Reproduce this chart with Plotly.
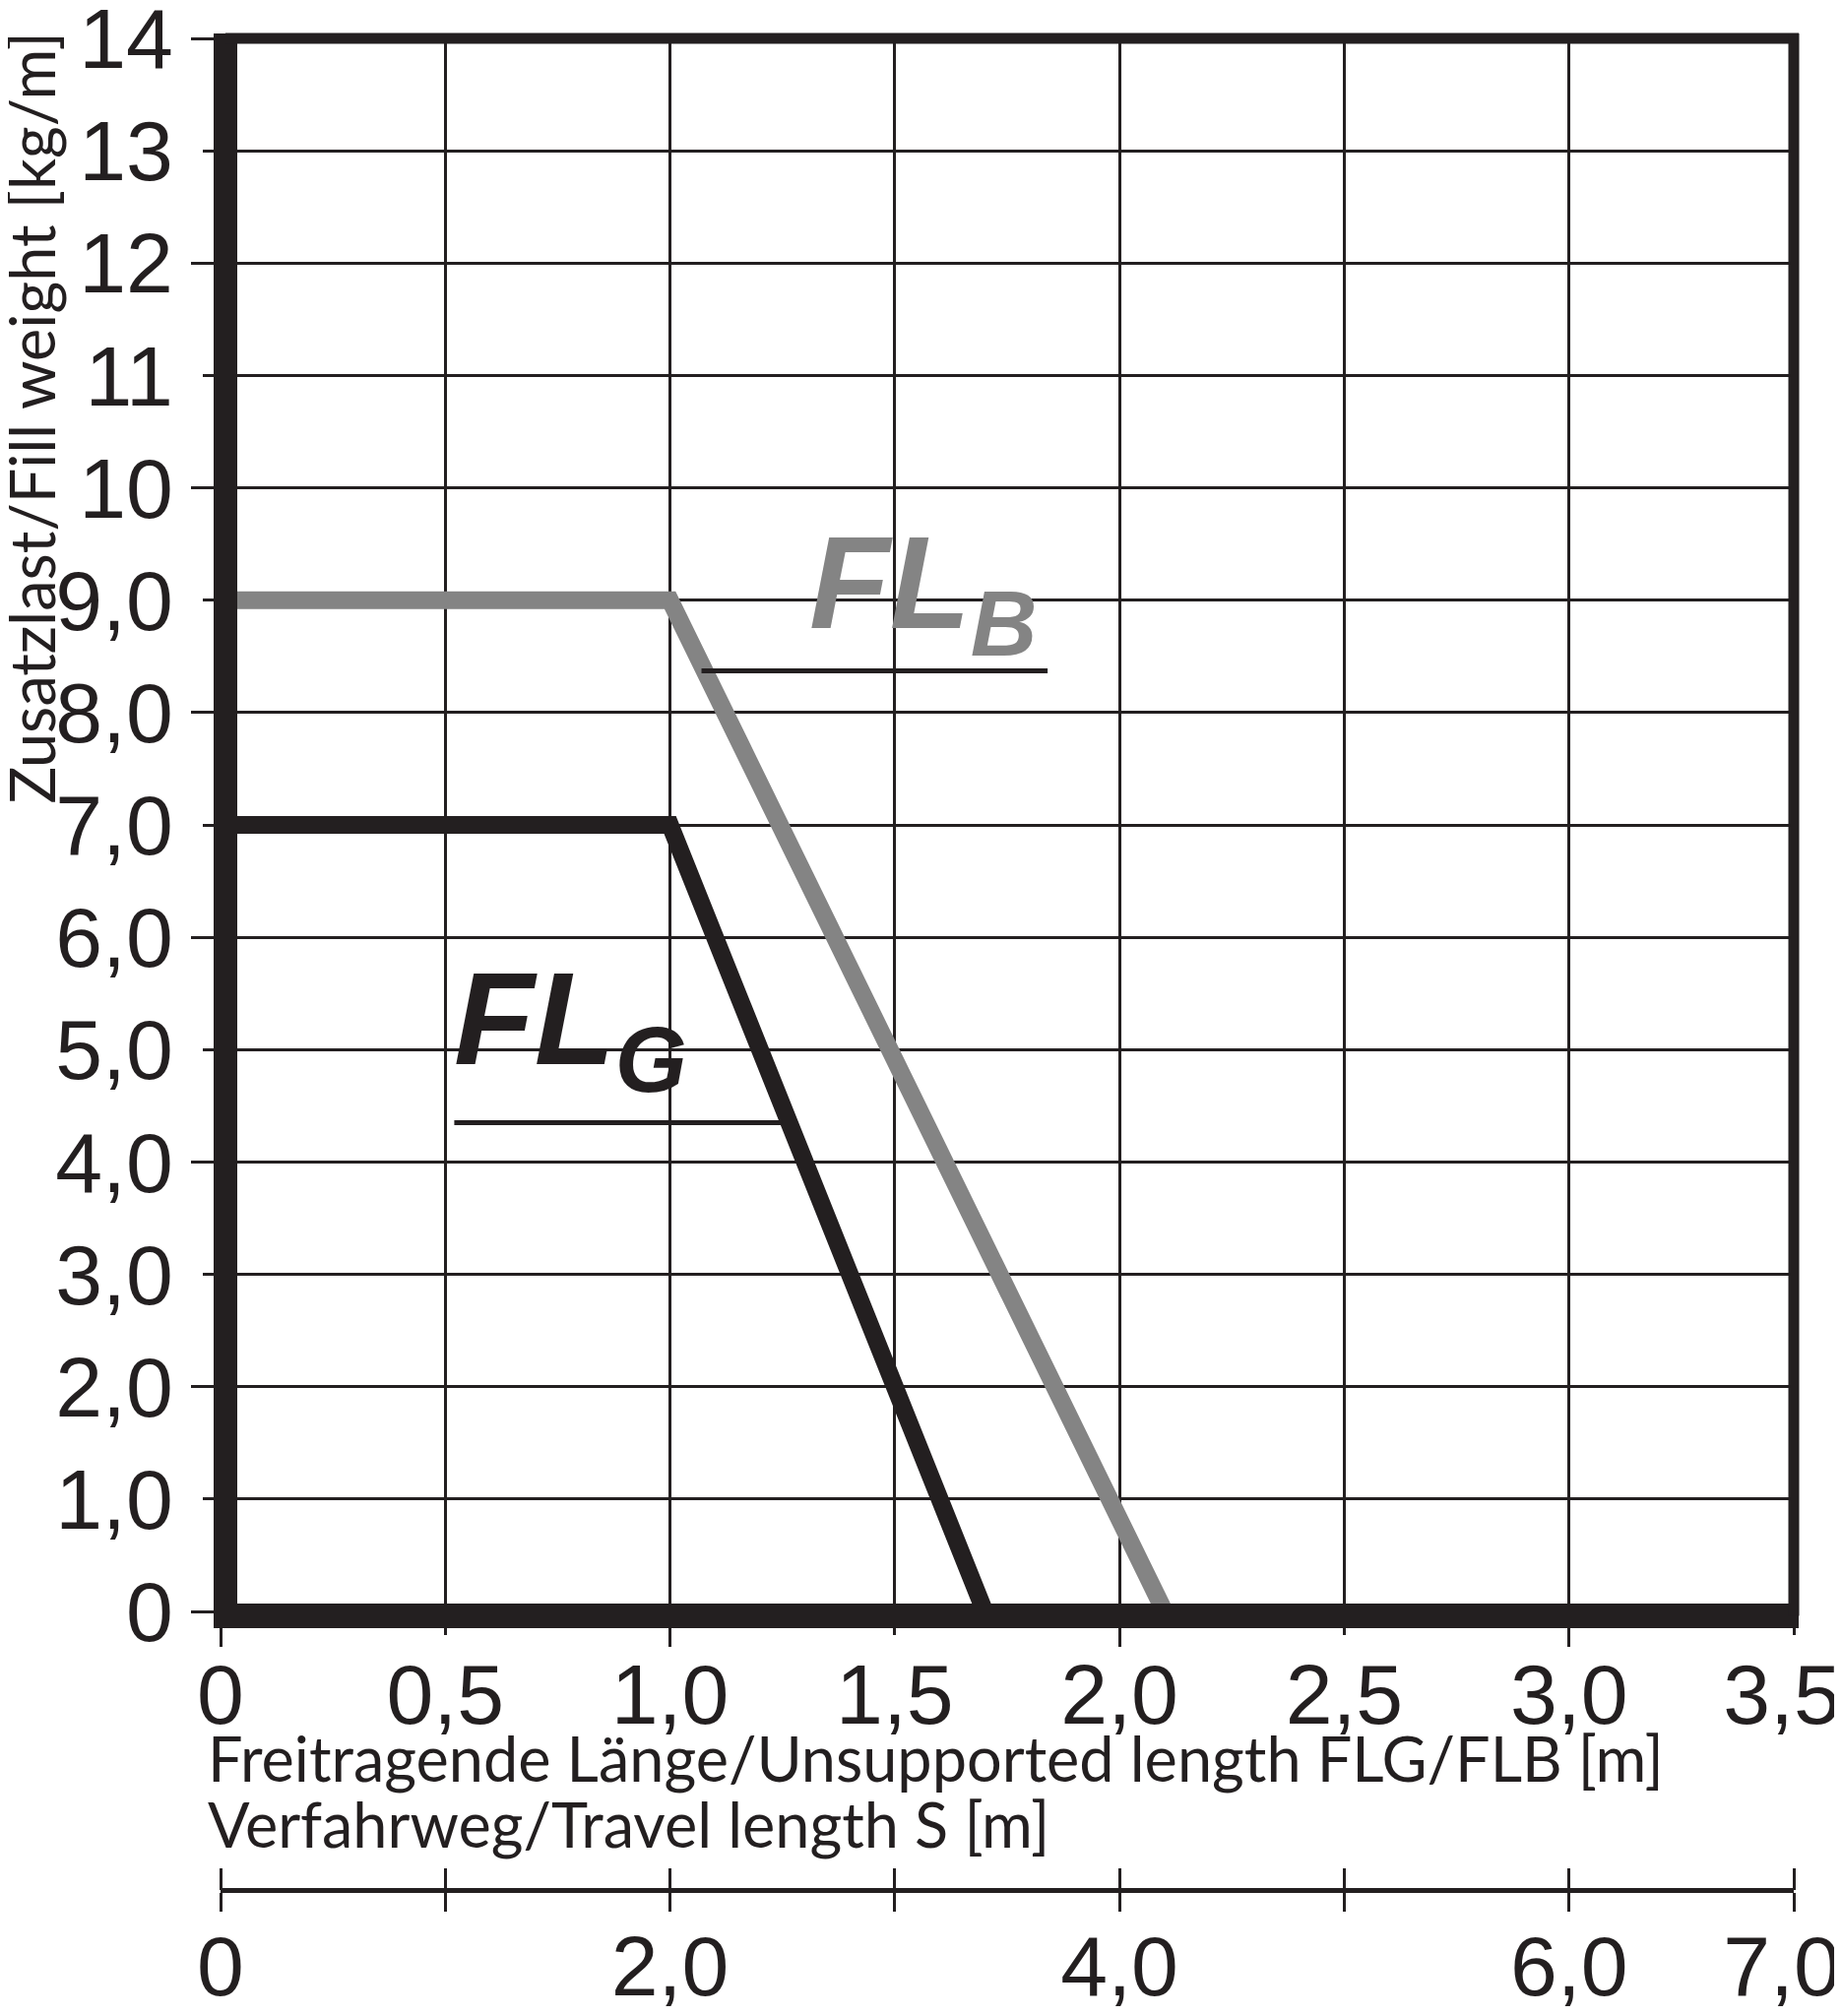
import plotly.graph_objects as go

# curve data
flg_x = [0, 1.0, 1.7]
flg_y = [7, 7, 0]
flb_x = [0, 1.0, 2.1]
flb_y = [9, 9, 0]

# curve labels and their leader lines
label_text = ["FL<sub>G</sub>", "FL<sub>B</sub>"]
label_x = [0.515, 1.305]
label_y = [5.19, 9.07]
leader_g_x = [0.52, 1.25]
leader_g_y = [4.35, 4.35]
leader_b_x = [1.07, 1.84]
leader_b_y = [8.37, 8.37]

# tick labels
x_ticks = [0, 0.5, 1.0, 1.5, 2.0, 2.5, 3.0]
x_ticktext = ["0", "0,5", "1,0", "1,5", "2,0", "2,5", "3,0"]
x_last_tick = [3.5]
x_last_text = ["3,5"]
y_ticks = list(range(0, 15))
y_ticktext = ["0", "1,0", "2,0", "3,0", "4,0", "5,0", "6,0", "7,0", "8,0", "9,0",
              "10", "11", "12", "13", "14"]
s_ticks = [0, 1, 2, 3, 4, 5, 6, 7]
s_label_vals = [0, 2, 4, 6]
s_label_text = ["0", "2,0", "4,0", "6,0"]
s_last_val = [7]
s_last_text = ["7,0"]

INK = "#231f20"
GREY = "#848484"
BODY = 8                     # browser body margin around the plot div
W, H = 1871 - BODY, 2048 - BODY
ML, MR, MT, MB = 224 - BODY, 49, 39 - BODY, 0
plot_h = H - MT - MB
y_bottom_px = 1637 - BODY    # div row of y = 0
s_axis_px = 1920 - BODY      # div row of the travel length axis
y_dom0 = (H - y_bottom_px) / plot_h
s_pos = (H - s_axis_px) / plot_h
plot_w = W - ML - MR
plot_hy = y_bottom_px - MT

tick_font = dict(family="Liberation Sans", size=86, color=INK)
title_font = dict(family="Lato", size=63, color=INK)

fig = go.Figure()
fig.add_trace(go.Scatter(x=flb_x, y=flb_y, mode="lines",
                         line=dict(color=GREY, width=18), showlegend=False))
fig.add_trace(go.Scatter(x=flg_x, y=flg_y, mode="lines",
                         line=dict(color=INK, width=18), showlegend=False))
fig.add_trace(go.Scatter(x=leader_g_x, y=leader_g_y, mode="lines",
                         line=dict(color=INK, width=5), showlegend=False))
fig.add_trace(go.Scatter(x=leader_b_x, y=leader_b_y, mode="lines",
                         line=dict(color=INK, width=5), showlegend=False))
# empty traces so the helper axes get drawn
for xa, ya in [("x2", "y"), ("x3", "y"), ("x4", "y"), ("x5", "y"), ("x6", "y"),
               ("x7", "y"), ("x", "y2")]:
    fig.add_trace(go.Scatter(x=[], y=[], xaxis=xa, yaxis=ya, showlegend=False,
                             hoverinfo="skip"))

for txt, lx, ly, col in zip(label_text, label_x, label_y, [INK, GREY]):
    fig.add_annotation(x=lx, y=ly, text="<b><i>" + txt + "</i></b>", showarrow=False,
                       xanchor="left", yanchor="middle",
                       font=dict(family="Liberation Sans", size=134, color=col))

fig.add_annotation(xref="paper", yref="y", x=0, y=0, xshift=-15, yshift=-109,
                   xanchor="left", yanchor="top", showarrow=False,
                   text="Freitragende Länge/Unsupported length FLG/FLB [m]", font=title_font)
fig.add_annotation(xref="paper", yref="y", x=0, y=0, xshift=-15, yshift=-176,
                   xanchor="left", yanchor="top", showarrow=False,
                   text="Verfahrweg/Travel length S [m]", font=title_font)
fig.add_annotation(xref="paper", yref="y", x=0, y=14, xshift=-233, yshift=8,
                   xanchor="left", yanchor="top", textangle=-90, showarrow=False,
                   text="Zusatzlast/Fill weight [kg/m]", font=title_font)

# frame: heavy left/bottom, lighter top/right
lx0 = 5 / plot_w
by0 = -4.5 / plot_hy
ext = 12 / plot_w
exty = 12 / plot_hy
fig.add_shape(type="line", xref="x domain", yref="y domain", x0=lx0, x1=lx0, y0=by0 - exty, y1=1 + 5 / plot_hy,
              line=dict(color=INK, width=24), layer="above")
fig.add_shape(type="line", xref="x domain", yref="y domain", x0=lx0 - ext, x1=1 + 5 / plot_w, y0=by0, y1=by0,
              line=dict(color=INK, width=25), layer="above")
fig.add_shape(type="line", xref="x domain", yref="y domain", x0=lx0, x1=1 + 5 / plot_w, y0=1, y1=1,
              line=dict(color=INK, width=11), layer="above")
fig.add_shape(type="line", xref="x domain", yref="y domain", x0=1, x1=1, y0=by0, y1=1 + 5 / plot_hy,
              line=dict(color=INK, width=11), layer="above")

fig.update_layout(
    width=W, height=H,
    margin=dict(l=ML, r=MR, t=MT, b=MB, autoexpand=False),
    paper_bgcolor="white", plot_bgcolor="white",
    xaxis=dict(range=[0, 3.5], domain=[0, 1], tickvals=x_ticks, ticktext=x_ticktext,
               ticks="outside", ticklen=23, tickwidth=3, tickcolor=INK,
               showgrid=True, gridcolor=INK, gridwidth=3, zeroline=False,
               showline=False, tickfont=tick_font, ticklabelstandoff=-13,
               ticklabeloverflow="allow", automargin=False),
    # long ticks at the whole metres
    xaxis2=dict(range=[0, 3.5], overlaying="x", anchor="y", tickvals=[0, 1, 2, 3],
                ticks="outside", ticklen=35, tickwidth=3, tickcolor=INK,
                showticklabels=False, showgrid=False, zeroline=False, showline=False,
                automargin=False),
    # last label pulled inward so it stays on the page
    xaxis6=dict(range=[0, 3.5], overlaying="x", anchor="y", tickvals=x_last_tick,
                ticktext=x_last_text, ticks="outside", ticklen=23, tickwidth=3,
                tickcolor=INK, showgrid=False, zeroline=False, showline=False,
                tickfont=tick_font, ticklabelstandoff=-13, ticklabelshift=-12,
                ticklabeloverflow="allow", automargin=False),
    # travel length axis: line with ticks below and above
    xaxis3=dict(range=[0, 7], overlaying="x", anchor="free", position=s_pos,
                tickvals=s_ticks, ticks="outside", ticklen=19, tickwidth=3, tickcolor=INK,
                showline=True, linewidth=5, linecolor=INK, showticklabels=False,
                showgrid=False, zeroline=False, automargin=False),
    xaxis4=dict(range=[0, 7], overlaying="x", anchor="free", position=s_pos, side="top",
                tickvals=s_ticks, ticks="outside", ticklen=22, tickwidth=3, tickcolor=INK,
                showline=False, showticklabels=False, showgrid=False, zeroline=False,
                automargin=False),
    xaxis5=dict(range=[0, 7], overlaying="x", anchor="free", position=s_pos,
                tickvals=s_label_vals, ticktext=s_label_text, ticks="",
                showline=False, showgrid=False, zeroline=False, tickfont=tick_font,
                ticklabelstandoff=20, ticklabeloverflow="allow", automargin=False),
    xaxis7=dict(range=[0, 7], overlaying="x", anchor="free", position=s_pos,
                tickvals=s_last_val, ticktext=s_last_text, ticks="",
                showline=False, showgrid=False, zeroline=False, tickfont=tick_font,
                ticklabelstandoff=20, ticklabelshift=-12, ticklabeloverflow="allow",
                automargin=False),
    yaxis=dict(range=[0, 14], domain=[y_dom0, 1], tickvals=y_ticks, ticktext=y_ticktext,
               ticks="outside", ticklen=17, tickwidth=3, tickcolor=INK,
               showgrid=True, gridcolor=INK, gridwidth=3, zeroline=False,
               showline=False, tickfont=tick_font, ticklabelstandoff=13,
               ticklabeloverflow="allow", automargin=False),
    # long ticks at the even values
    yaxis2=dict(range=[0, 14], domain=[y_dom0, 1], overlaying="y", anchor="x", side="left",
                tickvals=y_ticks[::2], ticks="outside", ticklen=29, tickwidth=3, tickcolor=INK,
                showticklabels=False, showgrid=False, zeroline=False, showline=False,
                automargin=False),
)

fig.write_html("out.html")
